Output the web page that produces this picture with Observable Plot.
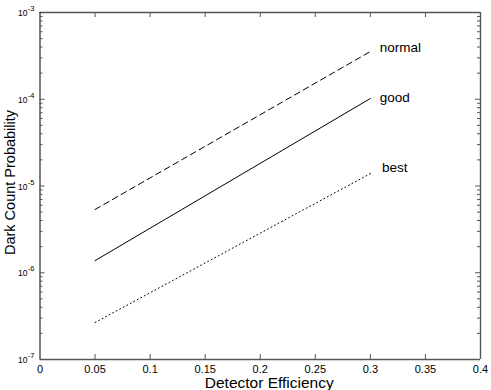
<!DOCTYPE html>
<html><head><meta charset="utf-8">
<script src="https://cdn.jsdelivr.net/npm/d3@7"></script>
<script src="https://cdn.jsdelivr.net/npm/@observablehq/plot@0.6"></script>
<style>body{margin:0;background:#fff}svg{display:block}</style>
</head><body><div id="chart"></div>
<script>
// ---- data ----
const efficiency = [0.05, 0.3];
const normalValues = [5.36e-6, 3.55e-4];
const goodValues = [1.38e-6, 1.02e-4];
const bestValues = [2.67e-7, 1.39e-5];
const seriesNames = ["normal", "good", "best"];
const labelX = [0.3086, 0.3086, 0.3105];
const labelY = [3.48e-4, 9.42e-5, 1.44e-5];
const xTicks = [0, 0.05, 0.1, 0.15, 0.2, 0.25, 0.3, 0.35, 0.4];
const xTickLabels = ["0", "0.05", "0.1", "0.15", "0.2", "0.25", "0.3", "0.35", "0.4"];
const yDecades = [1e-7, 1e-6, 1e-5, 1e-4, 1e-3];
const yExponents = ["-7", "-6", "-5", "-4", "-3"];
const xTitle = "Detector Efficiency";
const yTitle = "Dark Count Probability";

// ---- build tables ----
const seriesValues = {normal: normalValues, good: goodValues, best: bestValues};
const dashes = {normal: "6,4", good: null, best: "1,3"};
const lines = seriesNames.flatMap(name => efficiency.map((x, i) => ({name, x, y: seriesValues[name][i]})));
const labels = seriesNames.map((name, i) => ({name, x: labelX[i], y: labelY[i]}));
const minor = [];
for (const d of yDecades.slice(0, -1)) for (let k = 2; k <= 9; k++) minor.push(d * k);
const xmin = xTicks[0], xmax = xTicks[xTicks.length - 1];
const ymin = yDecades[0], ymax = yDecades[yDecades.length - 1];
const font = "'Liberation Sans', Arial, Helvetica, sans-serif";
const axisColor = "#555";

const marks = [
  // series
  ...seriesNames.map(name => Plot.line(lines.filter(d => d.name === name), {
    x: "x", y: "y", stroke: "#000", strokeWidth: 1, strokeDasharray: dashes[name]
  })),
  // frame
  Plot.ruleY([ymin, ymax], {x1: xmin, x2: xmax, stroke: axisColor, strokeWidth: 1.4}),
  Plot.ruleX([xmax], {y1: ymin, y2: ymax, stroke: axisColor, strokeWidth: 1.4}),
  Plot.ruleX([xmin], {y1: ymin, y2: ymax, stroke: "#000", strokeWidth: 1}),
  // x ticks (inward, bottom and top)
  Plot.ruleX(xTicks.slice(1, -1), {x: d => d, y1: ymin, y2: ymin, insetTop: -5, stroke: axisColor}),
  Plot.ruleX(xTicks.slice(1, -1), {x: d => d, y1: ymax, y2: ymax, insetBottom: -5, stroke: axisColor}),
  // y major ticks
  Plot.ruleY(yDecades.slice(1, -1), {y: d => d, x1: xmin, x2: xmin, insetRight: -5, stroke: axisColor}),
  Plot.ruleY(yDecades.slice(1, -1), {y: d => d, x1: xmax, x2: xmax, insetLeft: -5, stroke: axisColor}),
  // y minor ticks
  Plot.ruleY(minor, {y: d => d, x1: xmin, x2: xmin, insetRight: -3, stroke: axisColor}),
  Plot.ruleY(minor, {y: d => d, x1: xmax, x2: xmax, insetLeft: -3, stroke: axisColor}),
  // x tick labels
  Plot.text(xTicks, {x: d => d, y: ymin, text: (d, i) => xTickLabels[i], dy: 13, lineAnchor: "bottom",
    fontSize: 11, fill: "#000"}),
  // y tick labels: 10 with superscript exponent
  Plot.text(yDecades, {x: xmin, y: d => d, text: () => "10", textAnchor: "end", lineAnchor: "bottom",
    dx: -12.5, dy: 3.5, fontSize: 8.5, fill: "#000"}),
  Plot.text(yDecades, {x: xmin, y: d => d, text: (d, i) => yExponents[i], textAnchor: "start", lineAnchor: "bottom",
    dx: -12.2, dy: -1.5, fontSize: 7.5, fill: "#000"}),
  // series labels
  Plot.text(labels, {x: "x", y: "y", text: "name", textAnchor: "start", lineAnchor: "bottom", fontSize: 13.5, fill: "#000"}),
  // axis titles
  Plot.text([xTitle], {frameAnchor: "bottom", text: d => d, textAnchor: "middle", dx: 9, dy: 28.5, lineAnchor: "bottom", fontSize: 15.5, fill: "#000"}),
  Plot.text([yTitle], {frameAnchor: "left", text: d => d, textAnchor: "middle", rotate: -90, dx: -25.2, dy: -3.5, lineAnchor: "bottom", fontSize: 14.5, fill: "#000"})
];

const chart = Plot.plot({
  width: 491,
  height: 390,
  marginLeft: 39.5,
  marginRight: 11,
  marginTop: 12,
  marginBottom: 31,
  style: {fontFamily: font, background: "#fff", overflow: "visible"},
  x: {domain: [xmin, xmax], axis: null},
  y: {type: "log", domain: [ymin, ymax], axis: null},
  marks
});
document.getElementById("chart").appendChild(chart);
</script>
</body></html>
